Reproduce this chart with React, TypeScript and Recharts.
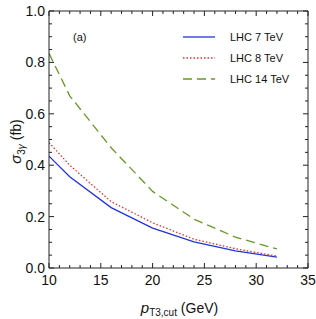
import React from "react";
import { LineChart, Line, XAxis, YAxis, Legend, Label } from "recharts";

// p_T3,cut (GeV) and cross sections (fb)
const ptCut = [10, 12, 16, 20, 24, 28, 32];
const lhc7 = [0.435, 0.355, 0.235, 0.155, 0.102, 0.067, 0.042];
const lhc8 = [0.488, 0.4, 0.258, 0.176, 0.112, 0.075, 0.046];
const lhc14 = [0.835, 0.67, 0.468, 0.298, 0.19, 0.12, 0.074];

const seriesNames = ["LHC 7 TeV", "LHC 8 TeV", "LHC 14 TeV"];

const xMajor = [10, 15, 20, 25, 30, 35];
const xMinor = [10, 11, 12, 13, 14, 15, 16, 17, 18, 19, 20, 21, 22, 23, 24, 25, 26, 27, 28, 29, 30, 31, 32, 33, 34, 35];
const yMajor = [0, 0.2, 0.4, 0.6, 0.8, 1.0];
const yMinor = [0, 0.05, 0.1, 0.15, 0.2, 0.25, 0.3, 0.35, 0.4, 0.45, 0.5, 0.55, 0.6, 0.65, 0.7, 0.75, 0.8, 0.85, 0.9, 0.95, 1.0];

const data = ptCut.map((p, i) => ({ p, lhc7: lhc7[i], lhc8: lhc8[i], lhc14: lhc14[i] }));

const FONT = "'Liberation Sans', Arial, sans-serif";
const lineStyles = [
    { key: "lhc7", color: "#2233dd", dash: undefined as string | undefined },
    { key: "lhc8", color: "#e03333", dash: "1.5 2" },
    { key: "lhc14", color: "#669922", dash: "9 5" },
];

const isIn = (v: number, arr: number[]) => arr.some((a) => Math.abs(a - v) < 1e-6);

const BottomTick = (props: any) => {
    const { x, y, payload } = props;
    const major = isIn(payload.value, xMajor);
    return (
        <g>
            <line x1={x} x2={x} y1={y} y2={y - (major ? 5 : 3)} stroke="#222" strokeWidth={1} />
            {major && (
                <text x={x} y={y + 17} textAnchor="middle" fontSize={14} fill="#111" fontFamily={FONT}>
                    {payload.value}
                </text>
            )}
        </g>
    );
};

const TopTick = (props: any) => {
    const { x, y, payload } = props;
    const major = isIn(payload.value, xMajor);
    return <line x1={x} x2={x} y1={y} y2={y + (major ? 5 : 3)} stroke="#222" strokeWidth={1} />;
};

const LeftTick = (props: any) => {
    const { x, y, payload } = props;
    const major = isIn(payload.value, yMajor);
    return (
        <g>
            <line x1={x} x2={x + (major ? 5 : 3)} y1={y} y2={y} stroke="#222" strokeWidth={1} />
            {major && (
                <text x={x - 4} y={y + 5} textAnchor="end" fontSize={14} fill="#111" fontFamily={FONT}>
                    {payload.value.toFixed(1)}
                </text>
            )}
        </g>
    );
};

const RightTick = (props: any) => {
    const { x, y, payload } = props;
    const major = isIn(payload.value, yMajor);
    return <line x1={x} x2={x - (major ? 5 : 3)} y1={y} y2={y} stroke="#222" strokeWidth={1} />;
};

const XTitle = (props: any) => {
    const { x, y, width } = props.viewBox;
    return (
        <text x={x + width / 2 + 1} y={y + 45} textAnchor="middle" fontSize={14} fill="#111" fontFamily={FONT}>
            <tspan fontStyle="italic" fontSize={15}>p</tspan>
            <tspan fontSize={10} dy={3}>T3,cut</tspan>
            <tspan dy={-3}> (GeV)</tspan>
        </text>
    );
};

const YTitle = (props: any) => {
    const { x, y, height } = props.viewBox;
    const cx = x + 21;
    const cy = y + height / 2 + 2;
    return (
        <text x={cx} y={cy} transform={`rotate(-90 ${cx} ${cy})`} textAnchor="middle" fontSize={14} fill="#111" fontFamily={FONT}>
            <tspan fontStyle="italic" fontSize={15}>σ</tspan>
            <tspan fontSize={10} dy={4}>3</tspan>
            <tspan fontSize={10} fontStyle="italic">γ</tspan>
            <tspan dy={-4}> (fb)</tspan>
        </text>
    );
};

const LegendBox = () => (
    <div style={{ fontFamily: FONT, fontSize: 11, color: "#111" }}>
        {seriesNames.map((name, i) => (
            <div key={name} style={{ display: "flex", alignItems: "center", height: 21 }}>
                <svg width={34} height={6} style={{ marginRight: 13 }}>
                    <line x1={0} x2={32} y1={3} y2={3} stroke={lineStyles[i].color} strokeWidth={1.3} strokeDasharray={lineStyles[i].dash} />
                </svg>
                <span>{name}</span>
            </div>
        ))}
    </div>
);

export default function App() {
    return (
        <div style={{ position: "absolute", left: 0, top: 0, width: 316, height: 319, background: "#fff" }}>
            <LineChart width={316} height={319} data={data} margin={{ top: 10, right: 7, bottom: 0, left: 0 }}>
                <XAxis
                    xAxisId="bottom"
                    dataKey="p"
                    type="number"
                    domain={[10, 35]}
                    ticks={xMinor}
                    interval={0}
                    height={51}
                    tickSize={0}
                    tickMargin={0}
                    tickLine={false}
                    tick={<BottomTick />}
                    axisLine={{ stroke: "#222" }}
                    allowDataOverflow
                >
                    <Label content={<XTitle />} />
                </XAxis>
                <XAxis
                    xAxisId="top"
                    orientation="top"
                    dataKey="p"
                    type="number"
                    domain={[10, 35]}
                    ticks={xMinor}
                    interval={0}
                    height={1}
                    tickSize={0}
                    tickMargin={0}
                    tickLine={false}
                    tick={<TopTick />}
                    axisLine={{ stroke: "#222" }}
                    allowDataOverflow
                />
                <YAxis
                    yAxisId="left"
                    type="number"
                    domain={[0, 1]}
                    ticks={yMinor}
                    interval={0}
                    width={49}
                    tickSize={0}
                    tickMargin={0}
                    tickLine={false}
                    tick={<LeftTick />}
                    axisLine={{ stroke: "#222" }}
                    allowDataOverflow
                >
                    <Label content={<YTitle />} />
                </YAxis>
                <YAxis
                    yAxisId="right"
                    orientation="right"
                    type="number"
                    domain={[0, 1]}
                    ticks={yMinor}
                    interval={0}
                    width={1}
                    tickSize={0}
                    tickMargin={0}
                    tickLine={false}
                    tick={<RightTick />}
                    axisLine={{ stroke: "#222" }}
                    allowDataOverflow
                />
                <Legend
                    layout="vertical"
                    align="center"
                    verticalAlign="middle"
                    content={<LegendBox />}
                    wrapperStyle={{ left: 183, top: 26, width: 130 }}
                />
                {lineStyles.map((s, i) => (
                    <Line
                        key={s.key}
                        xAxisId="bottom"
                        yAxisId="left"
                        type="linear"
                        dataKey={s.key}
                        name={seriesNames[i]}
                        stroke={s.color}
                        strokeWidth={1.3}
                        strokeDasharray={s.dash}
                        dot={false}
                        isAnimationActive={false}
                    />
                ))}
            </LineChart>
            <div style={{ position: "absolute", left: 73, top: 31, fontFamily: FONT, fontSize: 11, color: "#111" }}>(a)</div>
        </div>
    );
}
